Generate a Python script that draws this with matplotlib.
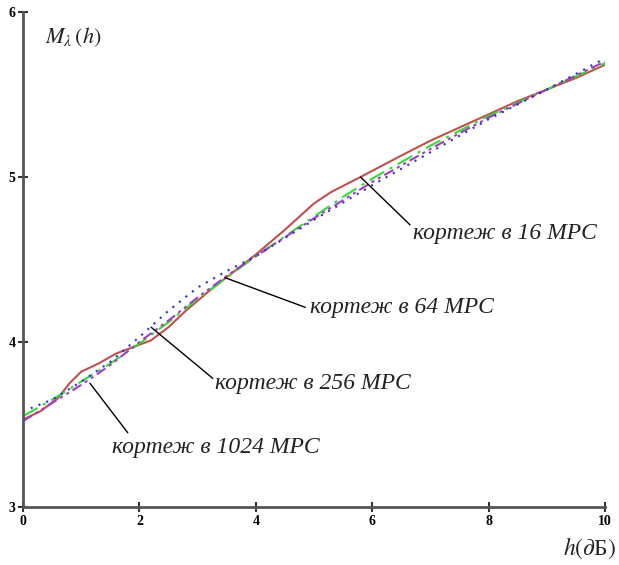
import matplotlib
matplotlib.use("Agg")
import matplotlib.pyplot as plt

plt.rcParams["mathtext.fontset"] = "stix"

# Data
x16 = [0, 0.3, 0.6, 0.8, 1.0, 1.3, 1.6, 1.9, 2.2, 2.5, 2.8, 3.2, 3.6, 4.0, 4.5, 5.0, 5.3, 5.8, 6.5, 7.0, 7.5, 8.0, 8.5, 9.0, 9.5, 10]
y16 = [3.53, 3.58, 3.66, 3.75, 3.82, 3.87, 3.93, 3.97, 4.01, 4.09, 4.19, 4.31, 4.42, 4.53, 4.68, 4.84, 4.91, 5.0, 5.13, 5.22, 5.30, 5.38, 5.46, 5.53, 5.60, 5.68]

x64 = [0, 0.5, 1, 1.5, 2, 2.5, 3, 3.5, 4, 4.5, 5, 5.5, 6, 6.5, 7, 7.5, 8, 8.5, 9, 9.5, 10]
y64 = [3.55, 3.65, 3.76, 3.87, 3.99, 4.12, 4.26, 4.39, 4.52, 4.64, 4.76, 4.88, 4.99, 5.09, 5.19, 5.28, 5.37, 5.45, 5.53, 5.61, 5.69]

x256 = [0, 0.5, 1, 1.5, 2, 2.5, 3, 3.5, 4, 5, 6, 7, 8, 9, 10]
y256 = [3.52, 3.63, 3.74, 3.86, 4.0, 4.13, 4.27, 4.40, 4.52, 4.75, 4.97, 5.17, 5.36, 5.53, 5.70]

x1024 = [0, 0.5, 1, 1.5, 2, 2.5, 3, 3.5, 4, 4.5, 5, 6, 7, 8, 9, 10]
y1024 = [3.58, 3.65, 3.76, 3.88, 4.03, 4.19, 4.33, 4.43, 4.52, 4.63, 4.74, 4.95, 5.15, 5.35, 5.53, 5.72]

labels = ["кортеж в 16 МРС", "кортеж в 64 МРС", "кортеж в 256 МРС", "кортеж в 1024 МРС"]
anchors = [(5.8, 5.0), (3.47, 4.39), (2.2, 4.09), (1.15, 3.75)]
line_ends = [(6.65, 4.71), (4.85, 4.21), (3.26, 3.78), (1.80, 3.45)]
text_pos = [(6.70, 4.66), (4.93, 4.21), (3.30, 3.75), (1.53, 3.36)]

fig = plt.figure(figsize=(6.19, 5.65), dpi=100)
ax = fig.add_axes([23/619, 1-507/565, (605-23)/619, (507-12)/565])

ax.plot(x16, y16, color="#c0504d", lw=1.5, ls="-")
ax.plot(x64, y64, color="#33dd33", lw=1.5, ls=(0, (8, 3, 1.5, 3)))
ax.plot(x256, y256, color="#a040c0", lw=1.5, ls=(0, (5, 2, 1.5, 2, 1.5, 2)))
ax.plot(x1024, y1024, color="#3030c0", lw=1.5, ls=(0, (1, 3)))

serif = ["Liberation Serif", "DejaVu Serif"]
for lab, a, le, t in zip(labels, anchors, line_ends, text_pos):
    ax.annotate("", xy=a, xytext=le,
                arrowprops=dict(arrowstyle="-", color="black", lw=1,
                                shrinkA=0, shrinkB=0))
    ax.text(t[0], t[1], lab, fontsize=17, style="italic", family=serif,
            ha="left", va="center", color="#222222")

ax.set_xlim(0, 10)
ax.set_ylim(3, 6)
for s in ["top", "right"]:
    ax.spines[s].set_visible(False)
for s in ["left", "bottom"]:
    ax.spines[s].set_color("#555555")
    ax.spines[s].set_linewidth(2)
ax.set_xticks([0, 2, 4, 6, 8, 10])
ax.set_yticks([3, 4, 5, 6])
ax.tick_params(direction="inout", length=7, width=1.5, color="#333333", labelsize=10, pad=2)
for lbl in ax.get_xticklabels() + ax.get_yticklabels():
    lbl.set_family(serif)
    lbl.set_fontweight("bold")

fig.text(45/619, 1-37/565, r"$M_{\lambda}\,(h)$", fontsize=16,
         ha="left", va="center", color="#222222")
fig.text(616/619, 1-548/565, r"$h(\partial$Б$)$", fontsize=17, family=serif,
         ha="right", va="center", color="#222222")

fig.savefig("out.png", dpi=100)
